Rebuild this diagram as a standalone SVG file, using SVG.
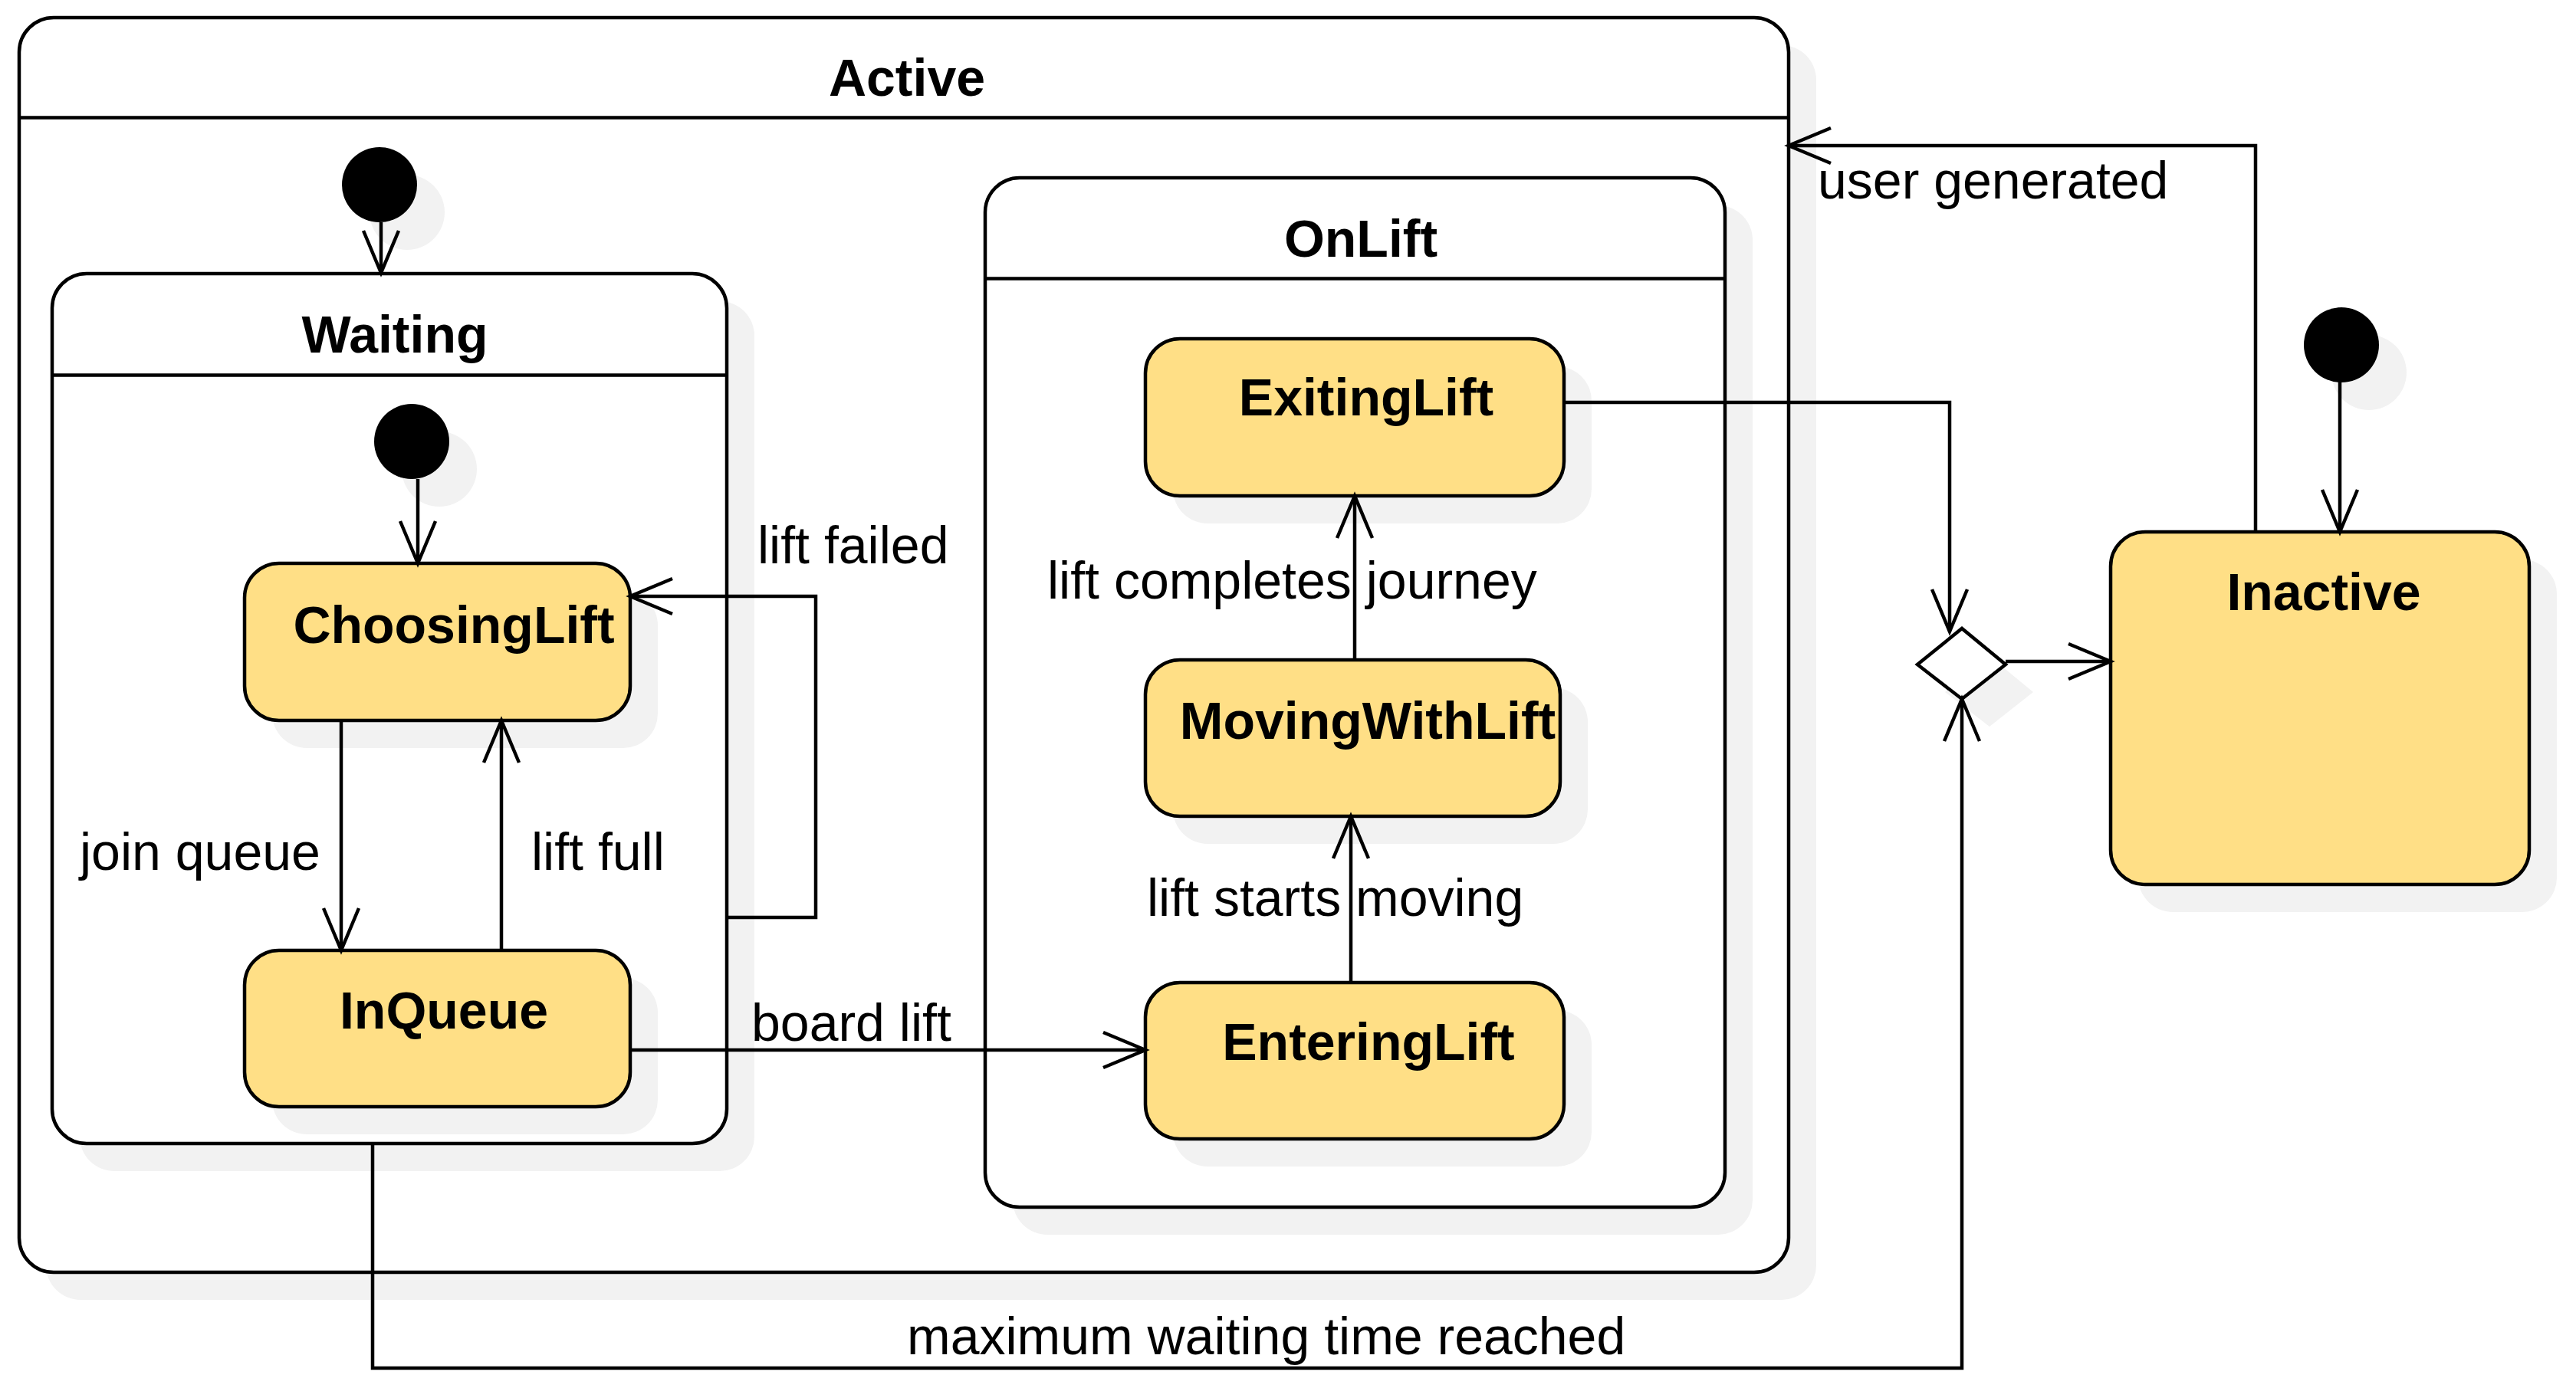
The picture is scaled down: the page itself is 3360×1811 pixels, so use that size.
<svg xmlns="http://www.w3.org/2000/svg" width="3360" height="1811" viewBox="0 0 3360 1811">
<style>
.sh{fill:#f2f2f2;stroke:none}
.box{fill:#ffffff;stroke:#000;stroke-width:4.5}
.st{fill:#ffdf86;stroke:#000;stroke-width:4.5}
.hd{stroke:#000;stroke-width:4.5}
.ini{fill:#000;stroke:none}
.dec{fill:#fff;stroke:#000;stroke-width:4.5}
.ttl{font-family:"Liberation Sans",Arial,sans-serif;font-weight:bold;font-size:68px;fill:#000;text-anchor:middle}
.lbl{font-family:"Liberation Sans",Arial,sans-serif;font-size:68px;fill:#000}
.cn{fill:none;stroke:#000;stroke-width:4.5;marker-end:url(#arr)}
</style>
<defs>
<marker id="arr" viewBox="-60 -30 70 60" refX="0" refY="0" markerWidth="70" markerHeight="60" markerUnits="userSpaceOnUse" orient="auto" overflow="visible">
<path d="M -55,-23 L 0,0 L -55,23" fill="none" stroke="#000" stroke-width="4.5"/>
</marker>
</defs>
<rect width="3360" height="1811" fill="#fff"/>

<g id="Active">
<rect class="sh" x="60" y="59" width="2309" height="1637" rx="45"/>
<rect class="box" x="25" y="23" width="2308" height="1637" rx="45"/>
<line class="hd" x1="25" y1="153.5" x2="2333" y2="153.5"/>
<text class="ttl" x="1183" y="125">Active</text>
</g>

<g id="ActiveInitial">
<circle class="sh" cx="531" cy="277" r="49"/>
<circle class="ini" cx="495" cy="241" r="49"/>
</g>

<g id="Waiting">
<rect class="sh" x="104" y="393" width="880" height="1135" rx="45"/>
<rect class="box" x="68" y="357" width="880" height="1135" rx="45"/>
<line class="hd" x1="68" y1="489.5" x2="948" y2="489.5"/>
<text class="ttl" x="515" y="460">Waiting</text>
</g>

<g id="WaitingInitial">
<circle class="sh" cx="573" cy="612" r="49"/>
<circle class="ini" cx="537" cy="576" r="49"/>
</g>

<g id="ChoosingLift">
<rect class="sh" x="355" y="771" width="503" height="205" rx="45"/>
<rect class="st" x="319" y="735" width="503" height="205" rx="45"/>
<text class="ttl" x="592" y="839">ChoosingLift</text>
</g>

<g id="InQueue">
<rect class="sh" x="355" y="1276" width="503" height="204" rx="45"/>
<rect class="st" x="319" y="1240" width="503" height="204" rx="45"/>
<text class="ttl" x="579" y="1342">InQueue</text>
</g>

<g id="OnLift">
<rect class="sh" x="1321" y="268" width="965" height="1343" rx="45"/>
<rect class="box" x="1285" y="232" width="965" height="1343" rx="45"/>
<line class="hd" x1="1285" y1="363.5" x2="2250" y2="363.5"/>
<text class="ttl" x="1775" y="335">OnLift</text>
</g>

<g id="ExitingLift">
<rect class="sh" x="1530" y="478" width="546" height="205" rx="45"/>
<rect class="st" x="1494" y="442" width="546" height="205" rx="45"/>
<text class="ttl" x="1782" y="542">ExitingLift</text>
</g>

<g id="MovingWithLift">
<rect class="sh" x="1530" y="897" width="541" height="204" rx="45"/>
<rect class="st" x="1494" y="861" width="541" height="204" rx="45"/>
<text class="ttl" x="1784" y="964">MovingWithLift</text>
</g>

<g id="EnteringLift">
<rect class="sh" x="1530" y="1318" width="546" height="204" rx="45"/>
<rect class="st" x="1494" y="1282" width="546" height="204" rx="45"/>
<text class="ttl" x="1785" y="1383">EnteringLift</text>
</g>

<g id="Decision">
<polygon class="sh" points="2537,903 2595,856 2652,903 2595,948"/>
<polygon class="dec" points="2501,867 2559,820 2616,867 2559,912"/>
</g>

<g id="InactiveInitial">
<circle class="sh" cx="3090" cy="486" r="49"/>
<circle class="ini" cx="3054" cy="450" r="49"/>
</g>

<g id="Inactive">
<rect class="sh" x="2789" y="730" width="546" height="460" rx="45"/>
<rect class="st" x="2753" y="694" width="546" height="460" rx="45"/>
<text class="ttl" x="3031" y="796">Inactive</text>
</g>

<g id="connectors">
<path class="cn" d="M 497,290 L 497,356"/>
<path class="cn" d="M 545,625 L 545,735"/>
<path class="cn" d="M 445,940 L 445,1240"/>
<path class="cn" d="M 654,1240 L 654,940"/>
<path class="cn" d="M 948,1197 L 1064,1197 L 1064,778 L 822,778"/>
<path class="cn" d="M 822,1370 L 1494,1370"/>
<path class="cn" d="M 1762,1282 L 1762,1065"/>
<path class="cn" d="M 1767,861 L 1767,647"/>
<path class="cn" d="M 2040,525 L 2543,525 L 2543,824"/>
<path class="cn" d="M 486,1492 L 486,1785 L 2559,1785 L 2559,912"/>
<path class="cn" d="M 2616,863 L 2753,863"/>
<path class="cn" d="M 3052,499 L 3052,694"/>
<path class="cn" d="M 2942,694 L 2942,190 L 2333,190"/>
</g>

<g id="labels">
<text class="lbl" x="988" y="735">lift failed</text>
<text class="lbl" x="104" y="1135">join queue</text>
<text class="lbl" x="693" y="1135">lift full</text>
<text class="lbl" x="980" y="1358">board lift</text>
<text class="lbl" x="1366" y="781">lift completes journey</text>
<text class="lbl" x="1496" y="1195">lift starts moving</text>
<text class="lbl" x="2371" y="259">user generated</text>
<text class="lbl" x="1183" y="1767">maximum waiting time reached</text>
</g>
</svg>
